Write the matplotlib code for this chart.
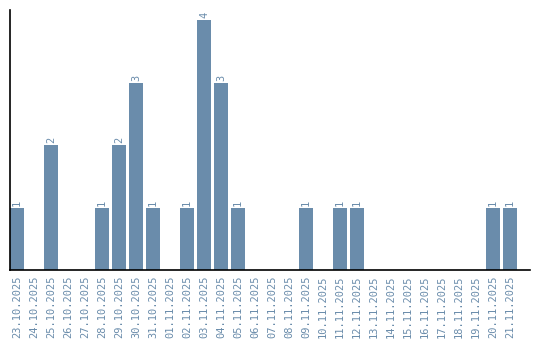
import matplotlib
matplotlib.use("Agg")
import matplotlib.pyplot as plt

dates = ["23.10.2025", "24.10.2025", "25.10.2025", "26.10.2025", "27.10.2025",
         "28.10.2025", "29.10.2025", "30.10.2025", "31.10.2025", "01.11.2025",
         "02.11.2025", "03.11.2025", "04.11.2025", "05.11.2025", "06.11.2025",
         "07.11.2025", "08.11.2025", "09.11.2025", "10.11.2025", "11.11.2025",
         "12.11.2025", "13.11.2025", "14.11.2025", "15.11.2025", "16.11.2025",
         "17.11.2025", "18.11.2025", "19.11.2025", "20.11.2025", "21.11.2025"]
counts = [1, 0, 2, 0, 0, 1, 2, 3, 1, 0, 1, 4, 3, 1, 0, 0, 0, 1, 0, 1, 1,
          0, 0, 0, 0, 0, 0, 0, 1, 1]

color = "#6a8cab"
fig = plt.figure(figsize=(5.4, 3.4), dpi=100)
ax = fig.add_axes([10/540, 1 - 270/340, 520/540, 260/340])
x = list(range(len(dates)))
bars = ax.bar(x, counts, width=0.82, color=color)
for xi, v in zip(x, counts):
    if v > 0:
        ax.text(xi, v + 0.03, str(v), rotation=90, ha="center", va="bottom",
                color=color, fontsize=7.5, family="DejaVu Sans Mono")
ax.set_xlim(-0.41, 29 + 20/17)
ax.set_ylim(0, 4.16)
ax.set_xticks(x)
ax.set_xticklabels(dates, rotation=90, color=color, fontsize=7.5,
                   family="DejaVu Sans Mono")
ax.tick_params(axis="x", length=0, pad=4)
ax.set_yticks([])
ax.spines["top"].set_visible(False)
ax.spines["right"].set_visible(False)
ax.spines["left"].set_color("black")
ax.spines["bottom"].set_color("black")
ax.spines["left"].set_linewidth(1.2)
ax.spines["bottom"].set_linewidth(1.2)
fig.savefig("out.png", dpi=100)
